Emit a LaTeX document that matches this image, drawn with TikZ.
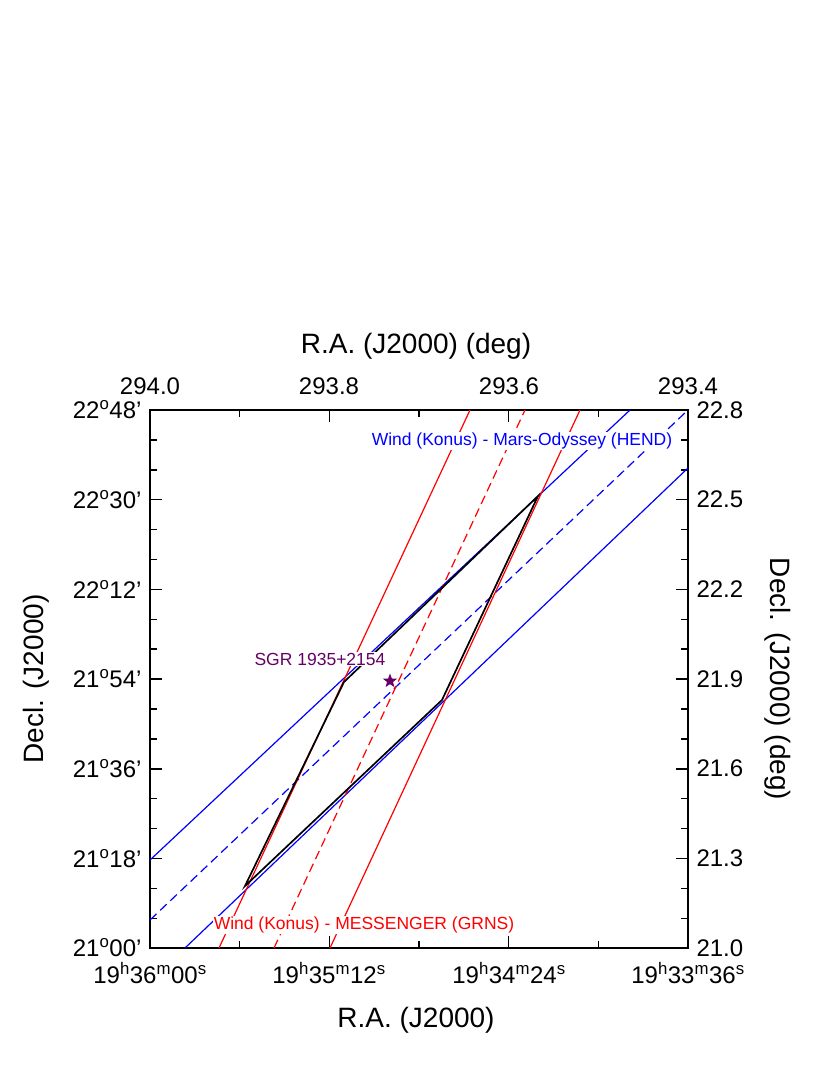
\documentclass[tikz,border=0pt]{standalone}
\usepackage{fontspec}
\setmainfont{Liberation Sans}
\usetikzlibrary{calc,positioning,shapes}

\begin{document}
\begin{tikzpicture}[x=1pt,y=-1pt,
    tick/.style={font=\fontsize{24}{24}\selectfont},
    ttl/.style={font=\fontsize{28}{28}\selectfont},
    lbl/.style={font=\fontsize{17.5}{17.5}\selectfont,fill=white,inner sep=1pt},
    ax/.style={line width=1.5pt},
    ln/.style={line width=1.2pt}]
    \useasboundingbox (0,0) rectangle (830,1075);
    % frame
    \draw[ax] (150,410) rectangle (688,948);
    % ticks, left and right
    \foreach \i in {0,...,17}{
        \pgfmathsetmacro\yy{410+\i*29.9}
        \pgfmathtruncatemacro\mj{mod(\i,3)==0 ? 1 : 0}
        \ifnum\mj=1
            \draw[ax] (150,\yy) -- (162,\yy);
            \draw[ax] (688,\yy) -- (676,\yy);
        \else
            \draw[ax] (150,\yy) -- (157,\yy);
            \draw[ax] (688,\yy) -- (681,\yy);
        \fi
    }
    % ticks, top and bottom
    \foreach \i in {0,...,6}{
        \pgfmathsetmacro\xx{150+\i*89.67}
        \pgfmathtruncatemacro\mj{mod(\i,2)==0 ? 1 : 0}
        \ifnum\mj=1
            \draw[ax] (\xx,410) -- (\xx,422);
            \draw[ax] (\xx,948) -- (\xx,936);
        \else
            \draw[ax] (\xx,410) -- (\xx,417);
            \draw[ax] (\xx,948) -- (\xx,941);
        \fi
    }
    % tick labels
    \node[tick] (t0) at (150,386) {294.0};
    \node[tick] (t1) at (329,386) {293.8};
    \node[tick] (t2) at (509,386) {293.6};
    \node[tick] (t3) at (688,386) {293.4};
    \node[tick] (b0) at (150,973) {19$^{\mathrm{h}}$36$^{\mathrm{m}}$00$^{\mathrm{s}}$};
    \node[tick] (b1) at (329,973) {19$^{\mathrm{h}}$35$^{\mathrm{m}}$12$^{\mathrm{s}}$};
    \node[tick] (b2) at (509,973) {19$^{\mathrm{h}}$34$^{\mathrm{m}}$24$^{\mathrm{s}}$};
    \node[tick] (b3) at (688,973) {19$^{\mathrm{h}}$33$^{\mathrm{m}}$36$^{\mathrm{s}}$};
    \foreach \t [count=\k from 0] in {21$^{\mathrm{o}}$00',21$^{\mathrm{o}}$18',21$^{\mathrm{o}}$36',21$^{\mathrm{o}}$54',22$^{\mathrm{o}}$12',22$^{\mathrm{o}}$30',22$^{\mathrm{o}}$48'}
        \node[tick,anchor=east] (l\k) at (145,948-\k*89.67) {\t};
    \foreach \t [count=\k from 0] in {21.0,21.3,21.6,21.9,22.2,22.5,22.8}
        \node[tick,anchor=west] (r\k) at (693,948-\k*89.67) {\t};
    % axis titles
    \node[ttl] (top) at (416,346) {R.A. (J2000) (deg)};
    \node[ttl] (bot) at (416,1020) {R.A. (J2000)};
    \node[ttl,rotate=90] (lft) at (36,679) {Decl. (J2000)};
    \node[ttl,rotate=-90] (rgt) at (778,679) {Decl. (J2000) (deg)};
    % annuli
    \draw[ln,blue] (150,860) -- (630,410);
    \draw[ln,blue,dashed,dash pattern=on 9pt off 5pt] (150,920) -- (688,410);
    \draw[ln,blue] (185,948) -- (688,468);
    \draw[ln,red] (219,948) -- (470,410);
    \draw[ln,red,dashed,dash pattern=on 9pt off 5pt] (274,948) -- (525,410);
    \draw[ln,red] (330,948) -- (580,410);
    % error box
    \draw[line width=1.7pt] (245,886) -- (344,682) -- (538,496) -- (442,700) -- cycle;
    % source
    \node[lbl,text=violet!80!black] (sgrl) at (320,659) {SGR 1935+2154};
    \node[star,star points=5,star point ratio=2.4,fill=violet!80!black,inner sep=0pt,minimum size=15pt] (sgr) at (390,681) {};
    \node[lbl,text=blue] (wmo) at (522,441) {Wind (Konus) - Mars-Odyssey (HEND)};
    \node[lbl,text=red] (wme) at (364,925) {Wind (Konus) - MESSENGER (GRNS)};
\end{tikzpicture}
\end{document}
